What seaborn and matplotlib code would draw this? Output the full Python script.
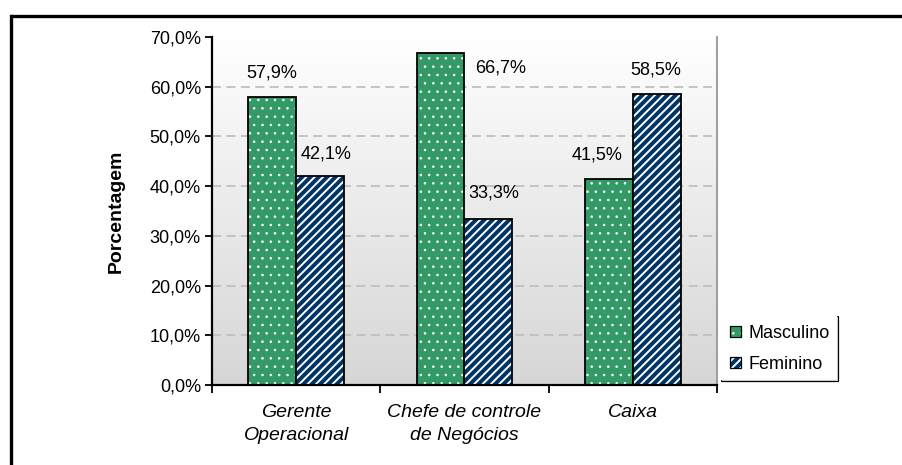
import numpy as np
import pandas as pd
import matplotlib
matplotlib.use("Agg")
import matplotlib.pyplot as plt
from matplotlib.lines import Line2D
from matplotlib.patches import Patch
from matplotlib.colors import LinearSegmentedColormap, to_rgba
import seaborn as sns

# --- data -------------------------------------------------------------
categories = ["Gerente\nOperacional", "Chefe de controle\nde Negócios", "Caixa"]
series_names = ["Masculino", "Feminino"]
masculino = [57.9, 66.7, 41.5]
feminino = [42.1, 33.3, 58.5]
y_ticks = [0, 10, 20, 30, 40, 50, 60, 70]

# label offsets (pixels) relative to each bar top centre
label_offsets = {
    ("Masculino", 0): (0, 24), ("Feminino", 0): (6, 22),
    ("Masculino", 1): (60, -15), ("Feminino", 1): (5, 26),
    ("Masculino", 2): (-12, 24), ("Feminino", 2): (-1, 24),
}

df = pd.DataFrame({
    "cargo": categories * 2,
    "sexo": [series_names[0]] * 3 + [series_names[1]] * 3,
    "pct": masculino + feminino,
})

# --- style --------------------------------------------------------------
sns.set_theme(style="white")
plt.rcParams["font.family"] = ["Liberation Sans", "DejaVu Sans"]
for key in ["text.color", "axes.labelcolor", "xtick.color", "ytick.color"]:
    plt.rcParams[key] = "black"
plt.rcParams["hatch.linewidth"] = 1.4

green = "#339966"
navy = "#003366"
palette = {"Masculino": green, "Feminino": navy}
hatches = {"Masculino": "..", "Feminino": "////"}
hatch_lw = {"Masculino": 0.6, "Feminino": 1.4}

fig = plt.figure(figsize=(9.02, 4.65), dpi=100)
ax = fig.add_axes([212 / 902, 1 - 385 / 465, (717 - 212) / 902, (385 - 37) / 465])

sns.barplot(data=df, x="cargo", y="pct", hue="sexo", order=categories,
            hue_order=series_names, palette=palette, width=0.57,
            edgecolor="black", linewidth=1.3, saturation=1, ax=ax,
            legend=False, zorder=3)


def style_hatch(patch, lw):
    if hasattr(patch, "set_hatchcolor"):
        patch.set_hatchcolor("white")
    else:
        patch._hatch_color = to_rgba("white")
    if hasattr(patch, "set_hatch_linewidth"):
        patch.set_hatch_linewidth(lw)
    else:
        patch._hatch_linewidth = lw
    patch.stale = True


# apply fill patterns per series
for container, name in zip(ax.containers, series_names):
    for bar in container:
        bar.set_hatch(hatches[name])
        style_hatch(bar, hatch_lw[name])

# vertical background gradient of the plot area
grad = LinearSegmentedColormap.from_list("bg", ["#d6d6d6", "#ffffff"])
ax.imshow(np.linspace(0, 1, 256).reshape(-1, 1), cmap=grad, origin="lower",
          extent=[0, 1, 0, 1], transform=ax.transAxes, aspect="auto", zorder=0)

ax.set_xlim(-0.5, 2.5)
ax.set_ylim(0, 70)

# gridlines
for v in y_ticks[1:-1]:
    ax.axhline(v, color="#c0c0c0", lw=1.3, ls=(0, (5, 3)), zorder=1)

# axes styling
ax.spines["top"].set_visible(False)
ax.spines["left"].set_color("black")
ax.spines["left"].set_linewidth(1.6)
ax.spines["bottom"].set_color("black")
ax.spines["bottom"].set_linewidth(1.6)
ax.spines["right"].set_color("#a0a0a0")
ax.spines["right"].set_linewidth(1.5)
for s in ax.spines.values():
    s.set_zorder(5)

ax.set_yticks(y_ticks)
ax.set_yticklabels([f"{v:.1f}%".replace(".", ",") for v in y_ticks], fontsize=13)
ax.tick_params(axis="y", direction="out", length=5, width=1.3, color="black",
               left=True, pad=3)

ax.set_xticks([-0.5, 0.5, 1.5, 2.5])
ax.set_xticklabels([])
ax.set_xticks([0, 1, 2], minor=True)
ax.set_xticklabels(categories, minor=True, fontsize=14, style="italic",
                   linespacing=1.45)
ax.tick_params(axis="x", which="major", direction="out", length=6, width=1.3,
               color="black", bottom=True)
ax.tick_params(axis="x", which="minor", length=0, pad=14)

ax.set_xlabel("")
ax.set_ylabel("Porcentagem", fontsize=14, fontweight="bold")
ax.yaxis.set_label_coords(-0.172, 0.5)

# value labels
for container, name in zip(ax.containers, series_names):
    values = masculino if name == "Masculino" else feminino
    for i, (bar, v) in enumerate(zip(container, values)):
        dx, dy = label_offsets[(name, i)]
        ax.annotate(f"{v:.1f}%".replace(".", ","),
                    (bar.get_x() + bar.get_width() / 2, v),
                    xytext=(dx, dy), textcoords="offset pixels",
                    ha="center", va="center", fontsize=13, zorder=6)

# legend
handles = [Patch(facecolor=palette[n], edgecolor="black", hatch=hatches[n],
                 linewidth=0.9, label=n) for n in series_names]
leg = fig.legend(handles=handles, loc="upper left",
                 bbox_to_anchor=(722 / 902, 1 - 317 / 465),
                 frameon=True, fancybox=False, fontsize=13,
                 handlelength=0.6, handleheight=0.6, handletextpad=0.4,
                 labelspacing=0.75, borderpad=0.45, borderaxespad=0)
leg.get_frame().set_edgecolor("none")
leg.get_frame().set_facecolor("white")
for p, n in zip(leg.get_patches(), series_names):
    style_hatch(p, hatch_lw[n])

fig.canvas.draw()
bb = leg.get_frame().get_window_extent()
x0, y0 = bb.x0 / fig.bbox.width, bb.y0 / fig.bbox.height
x1, y1 = bb.x1 / fig.bbox.width, bb.y1 / fig.bbox.height
fig.add_artist(Line2D([x1, x1], [y0, y1], color="black", lw=1.6,
                      transform=fig.transFigure))
fig.add_artist(Line2D([x0, x1], [y0, y0], color="black", lw=1.6,
                      transform=fig.transFigure))

# outer frame: top and left edges
fig.add_artist(Line2D([11 / 902, 1], [1 - 16 / 465, 1 - 16 / 465],
                      color="black", lw=2.4, transform=fig.transFigure,
                      solid_capstyle="butt"))
fig.add_artist(Line2D([11 / 902, 11 / 902], [0, 1 - 16 / 465],
                      color="black", lw=2.4, transform=fig.transFigure,
                      solid_capstyle="projecting"))

fig.savefig("out.png", dpi=100, facecolor="white")
